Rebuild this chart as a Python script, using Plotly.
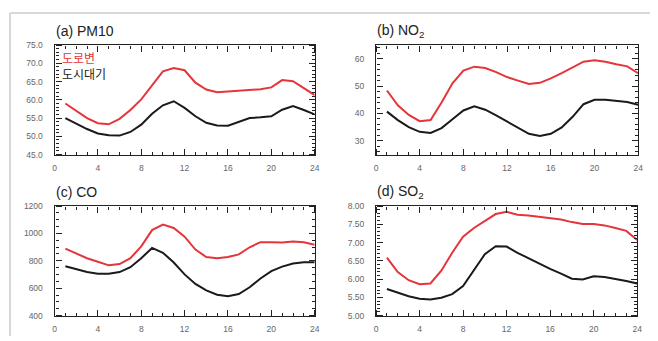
import plotly.graph_objects as go

hours = list(range(1, 25))

pm10_road = [59.0, 56.9, 55.0, 53.6, 53.3, 54.8, 57.2, 60.1, 63.8, 67.8, 68.7, 68.1,
             64.7, 62.8, 62.1, 62.3, 62.4, 62.7, 62.9, 63.4, 65.4, 65.1, 63.3, 61.3]
pm10_urban = [55.0, 53.5, 52.0, 50.8, 50.3, 50.2, 51.2, 53.2, 56.2, 58.5, 59.6, 57.8,
              55.5, 53.7, 53.0, 52.9, 53.9, 55.0, 55.2, 55.5, 57.3, 58.3, 57.2, 56.0]

no2_road = [48.4, 43.0, 39.5, 37.2, 37.6, 44.0, 51.0, 55.7, 57.1, 56.6, 55.1, 53.3,
            52.0, 50.8, 51.2, 52.8, 54.7, 56.8, 58.9, 59.4, 58.9, 58.0, 57.2, 54.7]
no2_urban = [40.7, 37.6, 35.0, 33.3, 32.9, 34.7, 37.9, 41.1, 42.6, 41.4, 39.3, 37.0,
             34.7, 32.6, 31.8, 32.6, 34.9, 38.8, 43.4, 45.0, 45.0, 44.6, 44.2, 43.2]

co_road = [889, 852, 819, 793, 767, 776, 819, 906, 1024, 1064, 1040, 976,
           882, 828, 819, 828, 847, 899, 936, 936, 934, 941, 936, 918]
co_urban = [760, 741, 718, 706, 706, 718, 753, 819, 894, 859, 788, 701,
            631, 584, 553, 541, 558, 607, 671, 725, 758, 781, 790, 790]

so2_road = [6.59, 6.19, 5.97, 5.86, 5.88, 6.23, 6.72, 7.16, 7.40, 7.60, 7.78, 7.84,
            7.76, 7.74, 7.70, 7.68, 7.63, 7.56, 7.51, 7.51, 7.47, 7.40, 7.32, 7.07]
so2_urban = [5.73, 5.62, 5.53, 5.46, 5.44, 5.49, 5.59, 5.81, 6.24, 6.68, 6.90, 6.89,
             6.72, 6.57, 6.43, 6.28, 6.15, 6.01, 5.99, 6.08, 6.06, 6.01, 5.95, 5.88]

titles = ["(a) PM10", "(b) NO<sub>2</sub>", "(c) CO", "(d) SO<sub>2</sub>"]
legend_labels = ["도로변", "도시대기"]

RED = "#e5343a"
BLACK = "#1a1a1a"
OFF = 8            # page body margin
W, H = 658 - OFF, 341 - OFF

panels = [
    dict(road=pm10_road, urban=pm10_urban, x=(53, 316), y=(41, 154),
         yr=[45, 75], dtick=5, minor=1, fmt=".1f", tvals=None),
    dict(road=no2_road, urban=no2_urban, x=(378, 643), y=(41, 154),
         yr=[25, 65], dtick=10, minor=2, fmt="d", tvals=[30, 40, 50, 60]),
    dict(road=co_road, urban=co_urban, x=(53, 316), y=(207, 320),
         yr=[400, 1200], dtick=200, minor=50, fmt="d", tvals=None),
    dict(road=so2_road, urban=so2_urban, x=(378, 642), y=(207, 320),
         yr=[5, 8], dtick=0.5, minor=0.1, fmt=".2f", tvals=None),
]


def px(v):
    return (v - OFF) / W


def py(v):
    return 1 - (v - OFF) / H


def nm(k):
    return "" if k == 1 else str(k)


fig = go.Figure()
layout = {}
annotations = []
AX = "#222"
for i, p in enumerate(panels):
    n, b, c = nm(i + 1), nm(i + 5), nm(i + 9)
    xa, ya = "x" + n, "y" + n
    for vals, col in [(p["urban"], BLACK), (p["road"], RED)]:
        fig.add_trace(go.Scatter(x=hours, y=vals, mode="lines", xaxis=xa, yaxis=ya,
                                 line=dict(color=col, width=2), showlegend=False,
                                 hoverinfo="skip"))
    # empty traces that activate the tick-only overlay axes
    for s in (b, c):
        fig.add_trace(go.Scatter(x=[None], y=[None], mode="lines", xaxis="x" + s,
                                 yaxis="y" + s, showlegend=False, hoverinfo="skip"))
    xd = [px(p["x"][0]), px(p["x"][1])]
    yd = [py(p["y"][1]), py(p["y"][0])]

    xcore = dict(range=[0, 24], dtick=4, tick0=0, showgrid=False, zeroline=False)
    ycore = dict(range=p["yr"], showgrid=False, zeroline=False)
    if p["tvals"]:
        ycore["tickvals"] = p["tvals"]
    else:
        ycore["dtick"] = p["dtick"]
        ycore["tick0"] = p["yr"][0]

    lab = dict(size=8.5, color="#666", family="Liberation Sans")
    # main axes: box lines + tick labels
    layout["xaxis" + n] = dict(xcore, domain=xd, anchor=ya, showline=True,
                               linecolor=AX, linewidth=1, mirror=True, ticks="",
                               tickfont=lab, ticklabelstandoff=5)
    layout["yaxis" + n] = dict(ycore, domain=yd, anchor=xa, showline=True,
                               linecolor=AX, linewidth=1, mirror=True, ticks="",
                               tickfont=lab, tickformat=p["fmt"],
                               ticklabelstandoff=9)

    tk = dict(showline=False, showticklabels=False, ticks="outside", ticklen=6,
              tickwidth=1.2, tickcolor=AX, anchor="free")
    xmin = dict(dtick=1, ticks="outside", ticklen=3, tickcolor=AX, tickwidth=1,
                showgrid=False)
    ymin = dict(dtick=p["minor"], ticks="outside", ticklen=3, tickcolor=AX,
                tickwidth=1, showgrid=False)
    # tick-only axes: outside ticks placed on the opposite edge point inward
    layout["xaxis" + b] = dict(xcore, **tk, overlaying=xa, side="top",
                               position=yd[0], minor=xmin)
    layout["xaxis" + c] = dict(xcore, **tk, overlaying=xa, side="bottom",
                               position=yd[1], minor=xmin)
    layout["yaxis" + b] = dict(ycore, **tk, overlaying=ya, side="right",
                               position=xd[0], minor=ymin)
    layout["yaxis" + c] = dict(ycore, **tk, overlaying=ya, side="left",
                               position=xd[1], minor=ymin)

    annotations.append(dict(text=titles[i], x=px(p["x"][0] - 1),
                            y=py(p["y"][0] - 14), xref="paper", yref="paper",
                            xanchor="left", yanchor="middle", showarrow=False,
                            font=dict(size=14, color="#222", family="Liberation Sans")))

annotations.append(dict(text=legend_labels[0], x=px(59), y=py(54), xref="paper",
                        yref="paper", xanchor="left", yanchor="middle", showarrow=False,
                        font=dict(size=12, color=RED, family="Noto Sans CJK KR")))
annotations.append(dict(text=legend_labels[1], x=px(59), y=py(70), xref="paper",
                        yref="paper", xanchor="left", yanchor="middle", showarrow=False,
                        font=dict(size=12, color="#222", family="Noto Sans CJK KR")))

shapes = [
    dict(type="line", xref="paper", yref="paper", x0=0, x1=1, y0=1, y1=1,
         line=dict(color="#d8d8d8", width=2)),
    dict(type="line", xref="paper", yref="paper", x0=0, x1=0, y0=0, y1=1,
         line=dict(color="#d8d8d8", width=2)),
]

fig.update_layout(width=W, height=H, margin=dict(l=0, r=0, t=0, b=0),
                  paper_bgcolor="white", plot_bgcolor="rgba(0,0,0,0)",
                  annotations=annotations, shapes=shapes, **layout)
fig.write_html("out.html")
